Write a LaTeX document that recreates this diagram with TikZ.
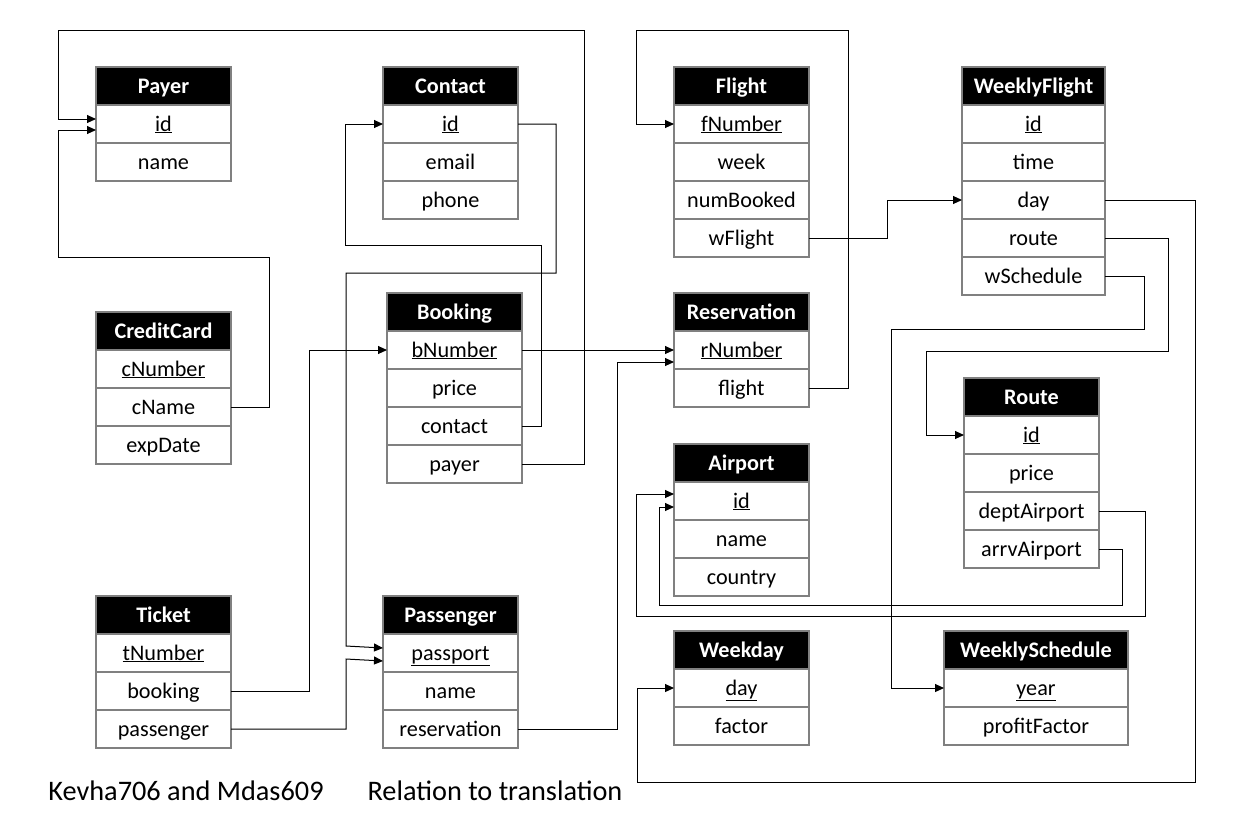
\documentclass[tikz,border=0pt]{standalone}
\usepackage{fontspec}
\setmainfont{Carlito}
\usetikzlibrary{positioning, arrows.meta}

\begin{document}
\begin{tikzpicture}[x=1pt, y=-1pt, >={Triangle[length=9pt,width=8pt]},
  hdr/.style={draw=gray, line width=1.2pt, fill=black, text=white, outer sep=0pt,
    font=\fontsize{22.2}{26}\selectfont\bfseries, minimum width=135pt,
    minimum height=38pt, inner sep=0pt, text height=16pt, text depth=2pt},
  fld/.style={draw=gray, line width=1.2pt, fill=white, outer sep=0pt,
    font=\fontsize{22.2}{26}\selectfont, minimum width=135pt,
    minimum height=38pt, inner sep=0pt, text height=16pt, text depth=2pt},
  wide/.style={minimum width=#1},
  link/.style={->, line width=1pt},
  caption/.style={anchor=base, font=\fontsize{28.3}{33}\selectfont}]
  \useasboundingbox (0,0) rectangle (1247,823);

  % Payer
  \node[hdr, anchor=north west] (payer) at (96,67) {Payer};
  \node[fld, below=0pt of payer] (py-id) {\underline{id}};
  \node[fld, below=0pt of py-id] (py-name) {name};
  % Contact
  \node[hdr, anchor=north west] (contact) at (383,67) {Contact};
  \node[fld, below=0pt of contact] (ct-id) {\underline{id}};
  \node[fld, below=0pt of ct-id] (ct-email) {email};
  \node[fld, below=0pt of ct-email] (ct-phone) {phone};
  % Flight
  \node[hdr, anchor=north west] (flight) at (674,67) {Flight};
  \node[fld, below=0pt of flight] (fl-num) {\underline{fNumber}};
  \node[fld, below=0pt of fl-num] (fl-week) {week};
  \node[fld, below=0pt of fl-week] (fl-booked) {numBooked};
  \node[fld, below=0pt of fl-booked] (fl-wf) {wFlight};
  % WeeklyFlight
  \node[hdr, wide=143pt, anchor=north west] (wflight) at (962,67) {WeeklyFlight};
  \node[fld, wide=143pt, below=0pt of wflight] (wf-id) {\underline{id}};
  \node[fld, wide=143pt, below=0pt of wf-id] (wf-time) {time};
  \node[fld, wide=143pt, below=0pt of wf-time] (wf-day) {day};
  \node[fld, wide=143pt, below=0pt of wf-day] (wf-route) {route};
  \node[fld, wide=143pt, below=0pt of wf-route] (wf-sched) {wSchedule};
  % CreditCard
  \node[hdr, anchor=north west] (ccard) at (96,312) {CreditCard};
  \node[fld, below=0pt of ccard] (cc-num) {\underline{cNumber}};
  \node[fld, below=0pt of cc-num] (cc-name) {cName};
  \node[fld, below=0pt of cc-name] (cc-exp) {expDate};
  % Booking
  \node[hdr, anchor=north west] (booking) at (387,293) {Booking};
  \node[fld, below=0pt of booking] (bk-num) {\underline{bNumber}};
  \node[fld, below=0pt of bk-num] (bk-price) {price};
  \node[fld, below=0pt of bk-price] (bk-contact) {contact};
  \node[fld, below=0pt of bk-contact] (bk-payer) {payer};
  % Reservation
  \node[hdr, anchor=north west] (resv) at (674,293) {Reservation};
  \node[fld, below=0pt of resv] (rs-num) {\underline{rNumber}};
  \node[fld, below=0pt of rs-num] (rs-flight) {flight};
  % Route
  \node[hdr, anchor=north west] (route) at (964,378) {Route};
  \node[fld, below=0pt of route] (rt-id) {\underline{id}};
  \node[fld, below=0pt of rt-id] (rt-price) {price};
  \node[fld, below=0pt of rt-price] (rt-dept) {deptAirport};
  \node[fld, below=0pt of rt-dept] (rt-arrv) {arrvAirport};
  % Airport
  \node[hdr, anchor=north west] (airport) at (674,444) {Airport};
  \node[fld, below=0pt of airport] (ap-id) {\underline{id}};
  \node[fld, below=0pt of ap-id] (ap-name) {name};
  \node[fld, below=0pt of ap-name] (ap-country) {country};
  % Ticket
  \node[hdr, anchor=north west] (ticket) at (96,596) {Ticket};
  \node[fld, below=0pt of ticket] (tk-num) {\underline{tNumber}};
  \node[fld, below=0pt of tk-num] (tk-book) {booking};
  \node[fld, below=0pt of tk-book] (tk-pass) {passenger};
  % Passenger
  \node[hdr, anchor=north west] (passenger) at (383,596) {Passenger};
  \node[fld, below=0pt of passenger] (ps-pass) {\underline{passport}};
  \node[fld, below=0pt of ps-pass] (ps-name) {name};
  \node[fld, below=0pt of ps-name] (ps-resv) {reservation};
  % Weekday
  \node[hdr, anchor=north west] (weekday) at (674,631) {Weekday};
  \node[fld, below=0pt of weekday] (wd-day) {\underline{day}};
  \node[fld, below=0pt of wd-day] (wd-factor) {factor};
  % WeeklySchedule
  \node[hdr, wide=184pt, anchor=north west] (wsched) at (944,631) {WeeklySchedule};
  \node[fld, wide=184pt, below=0pt of wsched] (ws-year) {\underline{year}};
  \node[fld, wide=184pt, below=0pt of ws-year] (ws-profit) {profitFactor};

  % links
  \draw[link] (bk-payer.east) -| (584,30) -| (58,119) -- ([yshift=5pt]py-id.west);
  \draw[link] (cc-name.east) -| (269,257) -| (58,130) -- ([yshift=-6pt]py-id.west);
  \draw[link] (bk-contact.east) -| (541,245) -| (345,124) -- (ct-id.west);
  \draw[link] (ct-id.east) -| (556,273) -| (346,646) -- ([yshift=5pt]ps-pass.west);
  \draw[link] (tk-pass.east) -| (346,659) -- ([yshift=-8pt]ps-pass.west);
  \draw[link] (tk-book.east) -| (309,350) -- (bk-num.west);
  \draw[link] (bk-num.east) -- (rs-num.west);
  \draw[link] (ps-resv.east) -| (617,362) -- ([yshift=-12pt]rs-num.west);
  \draw[link] (rs-flight.east) -| (848,30) -| (636,124) -- (fl-num.west);
  \draw[link] (fl-wf.east) -| (887,200) -- (wf-day.west);
  \draw[link] (wf-day.east) -| (1195,782) -| (637,688) -- (wd-day.west);
  \draw[link] (wf-route.east) -| (1168,351) -| (926,435) -- (rt-id.west);
  \draw[link] (wf-sched.east) -| (1144,329) -| (891,688) -- (ws-year.west);
  \draw[link] (rt-dept.east) -| (1145,616) -| (636,494) -- ([yshift=7pt]ap-id.west);
  \draw[link] (rt-arrv.east) -| (1122,605) -| (659,507) -- ([yshift=-6pt]ap-id.west);

  % captions
  \node[caption] (authors) at (186,800) {Kevha706 and Mdas609};
  \node[caption] (title) at (495,800) {Relation to translation};
\end{tikzpicture}
\end{document}
